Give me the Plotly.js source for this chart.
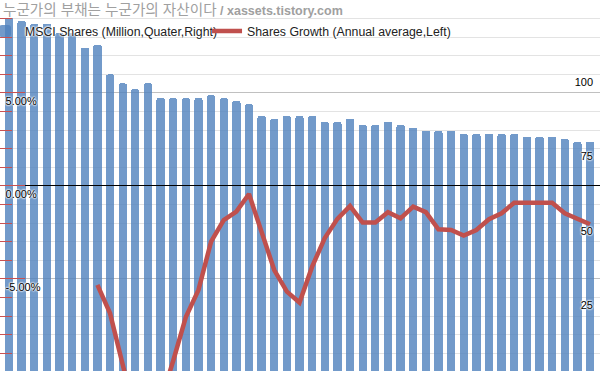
<!DOCTYPE html>
<html>
<head>
<meta charset="utf-8">
<script src="https://cdn.plot.ly/plotly-3.0.1.min.js"></script>
<style>
  html, body { margin: 0; padding: 0; background: #fff; }
  #chart { width: 600px; height: 371px; }
</style>
</head>
<body>
<div id="chart"></div>
<script>
// Quarter index (category axis, labels not visible in the crop)
const quarters = [1,2,3,4,5,6,7,8,9,10,11,12,13,14,15,16,17,18,19,20,21,22,23,24,25,26,27,28,29,30,31,32,33,34,35,36,37,38,39,40,41,42,43,44,45,46,47];

// MSCI shares (million, quarterly, right axis)
const msciShares = [119,118,117,117,114,114,109,110,100,97,95,97,92,92,92,92,93,92,91,90,86,85,86,86,86,84,84,85,83,83,84,83,82,81,81,81,80,80,80,80,80,79,79,79,78.3,77.3,77.3];

// Shares growth (annual average, %, left axis)
const sharesGrowth = [null,null,null,null,null,null,null,-5.32,-6.85,-9.6,-12.3,-13.0,-11.6,-9.4,-7.05,-5.59,-2.99,-1.83,-1.38,-0.43,-2.53,-4.52,-5.68,-6.27,-4.34,-2.80,-1.77,-1.08,-1.97,-1.97,-1.41,-1.74,-1.11,-1.41,-2.33,-2.37,-2.67,-2.37,-1.79,-1.47,-0.90,-0.90,-0.90,-0.90,-1.47,-1.77,-2.06];

// Tick values and labels
const leftTicks = [-5, 0, 5];
const leftTickLabels = ['-5.00%', '0.00%', '5.00%'];
const rightTicks = [25, 50, 75, 100];
const rightTickLabels = ['25', '50', '75', '100'];

const titleKo = '누군가의 부채는 누군가의 자산이다';
const titleEn = '/ xassets.tistory.com';
const barName = 'MSCI Shares (Million,Quater,Right)';
const lineName = 'Shares Growth (Annual average,Left)';

const halo = '0 0 2px #fff, 0 0 2px #fff, 0 0 2px #fff, 0 0 2px #fff';
const baseFont = 'Liberation Sans, Arial, sans-serif';

const traces = [
  {
    type: 'bar',
    name: barName,
    x: quarters,
    y: msciShares,
    yaxis: 'y',
    width: 0.66,
    marker: { color: 'rgba(79,129,189,0.8)', line: { width: 0 }, cornerradius: 2 },
    hoverinfo: 'skip'
  },
  {
    type: 'scatter',
    mode: 'lines',
    name: lineName,
    x: quarters,
    y: sharesGrowth,
    yaxis: 'y2',
    connectgaps: false,
    line: { color: 'rgb(192,80,77)', width: 4.5 },
    hoverinfo: 'skip'
  }
];

const layout = {
  width: 600,
  height: 371,
  margin: { l: 0, r: 0, t: 0, b: 0, pad: 0, autoexpand: false },
  paper_bgcolor: '#fff',
  plot_bgcolor: '#fff',
  showlegend: true,
  bargap: 0,
  xaxis: {
    type: 'linear',
    range: [0.287, 47.79],
    showgrid: false,
    zeroline: false,
    showticklabels: false,
    ticks: '',
    showline: false,
    fixedrange: true
  },
  yaxis: {
    side: 'right',
    range: [0.3125, 125],
    tickmode: 'array',
    tickvals: rightTicks,
    ticktext: rightTickLabels,
    ticklabelposition: 'inside bottom',
    ticklabelstandoff: 4,
    showgrid: false,
    zeroline: false,
    showline: false,
    ticks: '',
    tickfont: { family: baseFont, size: 11, color: '#000', shadow: halo },
    fixedrange: true
  },
  yaxis2: {
    overlaying: 'y',
    side: 'left',
    range: [-9.95, 10],
    tickmode: 'array',
    tickvals: leftTicks,
    ticktext: leftTickLabels,
    ticklabelposition: 'inside bottom',
    ticklabelstandoff: 4,
    ticks: 'inside',
    ticklen: 25,
    tickwidth: 1,
    tickcolor: 'rgb(200,80,80)',
    showgrid: true,
    gridcolor: '#c0c0c0',
    gridwidth: 1,
    zeroline: true,
    zerolinecolor: '#000',
    zerolinewidth: 1,
    zerolinelayer: 'above traces',
    showline: true,
    linecolor: '#000',
    linewidth: 1.5,
    minor: {
      tickmode: 'linear',
      tick0: 0,
      dtick: 1,
      ticks: 'inside',
      ticklen: 12,
      tickwidth: 1,
      tickcolor: 'rgb(200,80,80)',
      showgrid: true,
      gridcolor: '#e3e3e3',
      gridwidth: 1
    },
    tickfont: { family: baseFont, size: 11, color: '#000', shadow: halo },
    fixedrange: true
  },
  legend: {
    orientation: 'h',
    x: 0,
    xanchor: 'left',
    y: 1 - 31 / 371,
    yanchor: 'middle',
    indentation: -15,
    bgcolor: 'rgba(0,0,0,0)',
    borderwidth: 0,
    font: { family: baseFont, size: 12.3, color: '#222', shadow: halo },
    itemclick: false,
    itemdoubleclick: false
  },
  annotations: [
    {
      xref: 'paper', yref: 'paper',
      x: 0, y: 1,
      xanchor: 'left', yanchor: 'top',
      xshift: 1, yshift: 0,
      showarrow: false,
      align: 'left',
      text: '<span style="font-size:14.6px">' + titleKo + '</span> <b>' + titleEn + '</b>',
      font: { family: 'Liberation Sans, Noto Sans CJK KR, sans-serif', size: 12.5, color: '#a0a0a0' }
    }
  ]
};

Plotly.newPlot('chart', traces, layout, { displayModeBar: false, staticPlot: true });
</script>
</body>
</html>
